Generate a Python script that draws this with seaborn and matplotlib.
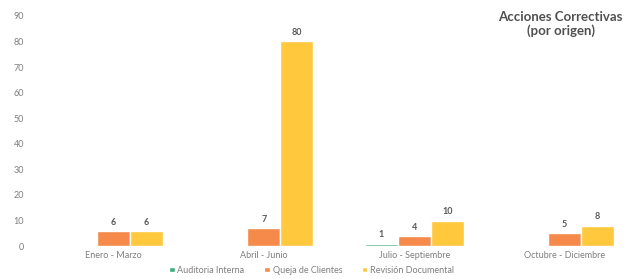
import pandas as pd
import matplotlib.pyplot as plt
import seaborn as sns

# Datos
periodos = ["Enero - Marzo", "Abril - Junio", "Julio - Septiembre", "Octubre - Diciembre"]
origenes = ["Auditoria Interna", "Queja de Clientes", "Revisión Documental"]
auditoria = [0, 0, 1, 0]
queja = [6, 7, 4, 5]
revision = [6, 80, 10, 8]

colores = ["#3FAE7C", "#F58A4B", "#FFC83D"]

df = pd.DataFrame({
    "periodo": periodos * 3,
    "origen": [origenes[0]] * 4 + [origenes[1]] * 4 + [origenes[2]] * 4,
    "valor": auditoria + queja + revision,
})

sns.set_style("white")
plt.rcParams['font.family'] = ['Lato', 'DejaVu Sans']

fig = plt.figure(figsize=(6.24, 2.79), dpi=100)
ax = fig.add_axes([0.061, 0.118, 0.933, 0.825])

sns.barplot(data=df, x="periodo", y="valor", hue="origen", order=periodos,
            hue_order=origenes, palette=colores, width=0.66, saturation=1,
            ax=ax, legend=True)

# Etiquetas de datos
for cont in ax.containers:
    etiquetas = [f"{v:g}" if v > 0 else "" for v in cont.datavalues]
    ax.bar_label(cont, labels=etiquetas, padding=3, fontsize=6.5,
                 color="#595959", fontweight="bold")

ax.set_ylim(0, 90)
ax.set_yticks(range(0, 91, 10))
ax.set_xlim(-0.5, 3.37)
ax.set_xlabel("")
ax.set_ylabel("")
ax.tick_params(axis="both", length=0, labelsize=6.5, colors="#7F7F7F")
ax.tick_params(axis="y", pad=10)
sns.despine(ax=ax, left=True, bottom=True)

ax.legend(loc="upper center", bbox_to_anchor=(0.47, -0.05), ncol=3,
          frameon=False, fontsize=6.5, handlelength=0.6, handleheight=0.6,
          columnspacing=2.2, handletextpad=0.3, labelcolor="#7F7F7F")

fig.text(0.998, 0.96, "Acciones Correctivas\n(por origen)", ha="right", va="top",
         fontsize=9.5, fontweight="bold", color="#505050", linespacing=1.1,
         multialignment="center")

fig.savefig("out.png", dpi=100)
